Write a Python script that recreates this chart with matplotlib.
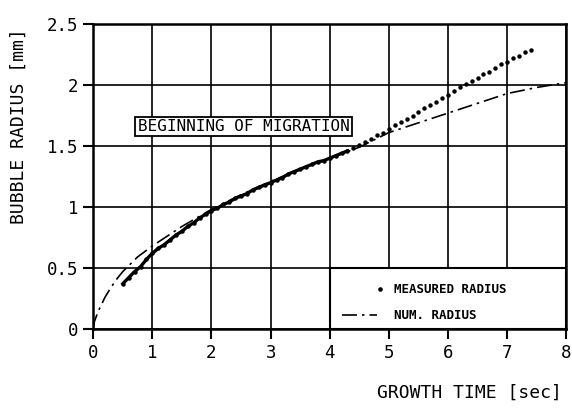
import matplotlib
matplotlib.use("Agg")
import matplotlib.pyplot as plt
from matplotlib.patches import Rectangle

# measured bubble radius (dots)
meas_t = [0.5, 0.6, 0.7, 0.8, 0.9, 1.0, 1.1, 1.2, 1.3, 1.4,
          1.5, 1.6, 1.7, 1.8, 1.9, 2.0, 2.1, 2.2, 2.3, 2.4,
          2.5, 2.6, 2.7, 2.8, 2.9, 3.0, 3.1, 3.2, 3.3, 3.4,
          3.5, 3.6, 3.7, 3.8, 3.9, 4.0, 4.1, 4.2, 4.3, 4.4,
          4.5, 4.6, 4.7, 4.8, 4.9, 5.0, 5.1, 5.2, 5.3, 5.4,
          5.5, 5.6, 5.7, 5.8, 5.9, 6.0, 6.1, 6.2, 6.3, 6.4,
          6.5, 6.6, 6.7, 6.8, 6.9, 7.0, 7.1, 7.2, 7.3, 7.4]
meas_r = [0.37, 0.42, 0.47, 0.51, 0.57, 0.62, 0.66, 0.69, 0.73, 0.77,
          0.80, 0.84, 0.87, 0.91, 0.94, 0.97, 0.99, 1.02, 1.04, 1.07,
          1.09, 1.11, 1.14, 1.16, 1.18, 1.20, 1.22, 1.24, 1.27, 1.29,
          1.31, 1.33, 1.35, 1.37, 1.38, 1.40, 1.42, 1.44, 1.46, 1.48,
          1.51, 1.53, 1.56, 1.59, 1.61, 1.64, 1.67, 1.70, 1.72, 1.75,
          1.78, 1.81, 1.84, 1.86, 1.89, 1.92, 1.95, 1.98, 2.01, 2.03,
          2.06, 2.09, 2.11, 2.14, 2.17, 2.19, 2.22, 2.24, 2.27, 2.29]

# numerical radius (dash-dot)
num_t = [0, 0.02, 0.05, 0.1, 0.2, 0.3, 0.4, 0.5, 0.75, 1.0, 1.5, 2.0,
         2.5, 3.0, 3.5, 4.0, 4.5, 5.0, 5.5, 6.0, 6.5, 7.0, 7.5, 8.0]
num_r = [0, 0.06, 0.10, 0.16, 0.26, 0.34, 0.41, 0.47, 0.59, 0.68, 0.84, 0.98,
         1.10, 1.21, 1.31, 1.40, 1.49, 1.61, 1.69, 1.77, 1.85, 1.93, 1.98, 2.02]

x_ticks = [0, 1, 2, 3, 4, 5, 6, 7, 8]
y_ticks = [0, 0.5, 1, 1.5, 2, 2.5]
y_labels = ["0", "0.5", "1", "1.5", "2", "2.5"]

mono = "DejaVu Sans Mono"
dashdot = (0, (9, 3, 1.5, 3))

fig = plt.figure(figsize=(5.72, 4.08), dpi=100)
ax = fig.add_axes([0.163, 0.194, 0.827, 0.747])

ax.set_xlim(0, 8)
ax.set_ylim(0, 2.5)
ax.set_xticks(x_ticks)
ax.set_xticklabels([str(t) for t in x_ticks], family=mono, fontsize=12.5)
ax.set_yticks(y_ticks)
ax.set_yticklabels(y_labels, family=mono, fontsize=12.5)
ax.tick_params(direction="out", length=7, width=1.5, pad=4)
ax.grid(True, color="black", lw=1.2)
for sp in ax.spines.values():
    sp.set_linewidth(1.8)

ax.plot(num_t, num_r, color="black", lw=1.2, ls=dashdot, zorder=4)
# dense early part of the measurement reads as a thick line
ax.plot(meas_t[:39], meas_r[:39], color="black", lw=2.4, zorder=5)
ax.plot(meas_t, meas_r, "o", color="black", ms=2.2, zorder=5)

ax.text(2.54, 1.66, "BEGINNING OF MIGRATION", family=mono, fontsize=11.5,
        ha="center", va="center", zorder=6,
        bbox=dict(boxstyle="square,pad=0.15", fc="white", ec="black", lw=1.3))

# legend box in the lower right quarter
ax.add_patch(Rectangle((0.5, 0), 0.5, 0.2, transform=ax.transAxes,
                       fc="white", ec="black", lw=1.5, zorder=3))
ax.plot([0.606], [0.13], "o", color="black", ms=2.3, transform=ax.transAxes, zorder=6)
ax.text(0.636, 0.13, "MEASURED RADIUS", family=mono, fontsize=9, fontweight="bold",
        ha="left", va="center", transform=ax.transAxes, zorder=6)
ax.plot([0.525, 0.6], [0.045, 0.045], color="black", lw=1.2, ls=dashdot,
        transform=ax.transAxes, zorder=6)
ax.text(0.636, 0.045, "NUM. RADIUS", family=mono, fontsize=9, fontweight="bold",
        ha="left", va="center", transform=ax.transAxes, zorder=6)

ax.set_xlabel("GROWTH TIME [sec]", family=mono, fontsize=13, loc="right")
ax.xaxis.set_label_coords(0.99, -0.18)
ax.set_ylabel("BUBBLE RADIUS [mm]", family=mono, fontsize=13, loc="top")
ax.yaxis.set_label_coords(-0.138, 0.985)

fig.savefig("out.png", dpi=100)
